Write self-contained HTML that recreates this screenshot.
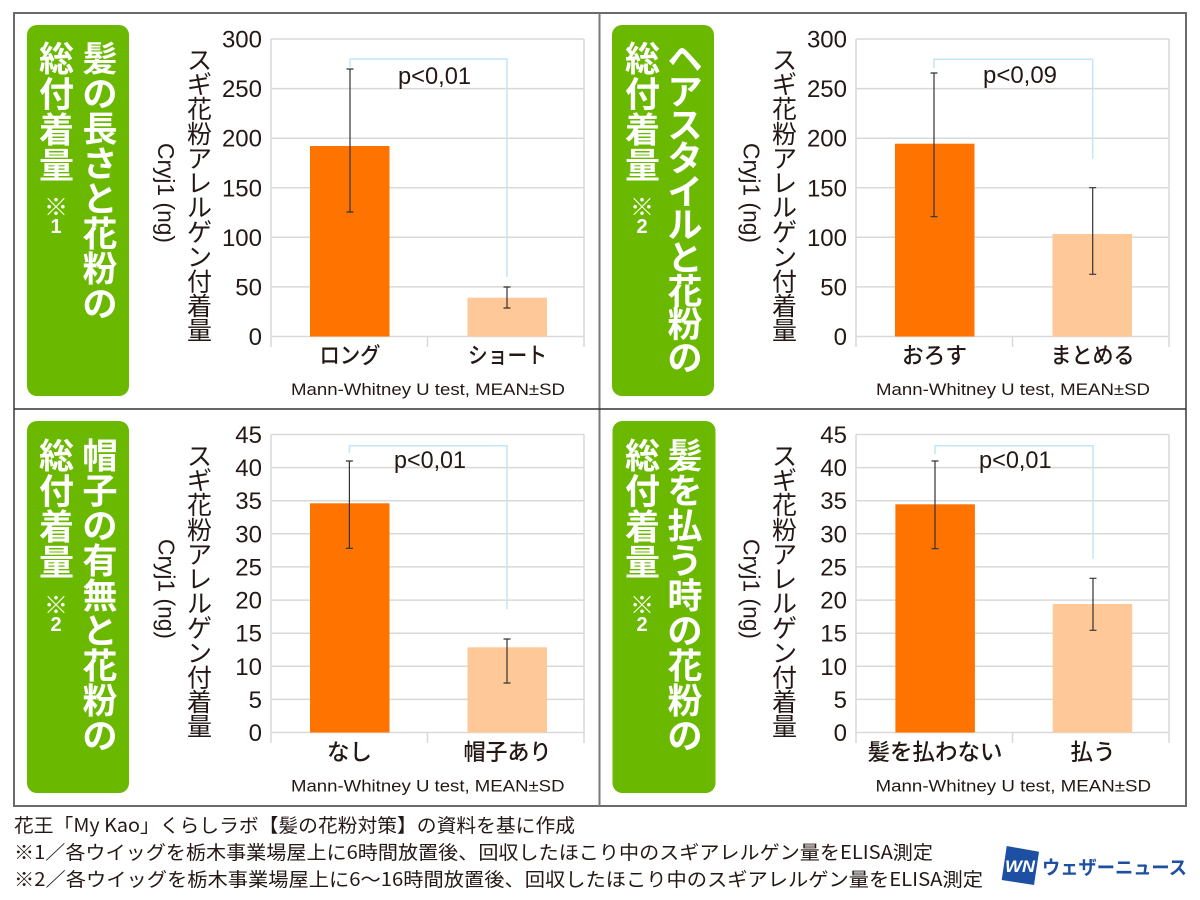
<!DOCTYPE html>
<html><head><meta charset="utf-8">
<style>
html,body{margin:0;padding:0;background:#fff;}
svg{display:block;}
text{font-family:"Liberation Sans","Noto Sans CJK JP",sans-serif;fill:#231815;}
.jp{font-family:"Noto Sans CJK JP","Liberation Sans",sans-serif;}
.gt{font-family:"Noto Sans CJK JP",sans-serif;font-weight:700;fill:#fff;font-size:35px;}
.yt{font-family:"Noto Sans CJK JP",sans-serif;font-size:25px;}
.tk{font-size:24px;}
.cat{font-family:"Noto Sans CJK JP",sans-serif;font-size:22.5px;font-weight:500;}
.mw{font-size:17px;}
.pv{font-size:24px;}
.grid{stroke:#d9d9d9;stroke-width:1.5;fill:none;}
.err{stroke:#333;stroke-width:1.2;fill:none;}
.brk{stroke:#c2e6f7;stroke-width:1.5;fill:none;}
.ft{font-family:"Noto Sans CJK JP",sans-serif;font-size:19px;}
.kome{font-family:"Noto Sans CJK JP",sans-serif;font-size:24px;font-weight:400;fill:#fff;}
.num{font-size:20px;font-weight:700;fill:#fff;}
</style></head>
<body>
<svg width="1200" height="900" viewBox="0 0 1200 900" xmlns="http://www.w3.org/2000/svg">
<rect x="0" y="0" width="1200" height="900" fill="#fff"/>

<!-- PANEL TL -->
<g transform="translate(0,0)">
  <rect x="27" y="25" width="102" height="371" rx="10" fill="#6ab800"/>
  <g text-anchor="middle" dominant-baseline="central">
    <text class="gt" x="100" y="57">髪</text><text class="gt" x="100" y="92">の</text><text class="gt" x="100" y="127">長</text><text class="gt" x="100" y="162">さ</text><text class="gt" x="100" y="197">と</text><text class="gt" x="100" y="232">花</text><text class="gt" x="100" y="267">粉</text><text class="gt" x="100" y="302">の</text>
    <text class="gt" x="56.5" y="57">総</text><text class="gt" x="56.5" y="92.5">付</text><text class="gt" x="56.5" y="128">着</text><text class="gt" x="56.5" y="163.5">量</text>
    <text class="kome" x="56" y="205">※</text>
    <text class="num" x="56" y="227">1</text>
  </g>
  <g text-anchor="middle" dominant-baseline="central">
    <text class="yt" x="199.5" y="59">ス</text><text class="yt" x="199.5" y="83.6">ギ</text><text class="yt" x="199.5" y="108.2">花</text><text class="yt" x="199.5" y="132.8">粉</text><text class="yt" x="199.5" y="157.4">ア</text><text class="yt" x="199.5" y="182">レ</text><text class="yt" x="199.5" y="206.6">ル</text><text class="yt" x="199.5" y="231.2">ゲ</text><text class="yt" x="199.5" y="255.8">ン</text><text class="yt" x="199.5" y="280.4">付</text><text class="yt" x="199.5" y="305">着</text><text class="yt" x="199.5" y="329.6">量</text>
  </g>
  <text transform="translate(166,193) rotate(90)" text-anchor="middle" dominant-baseline="central" font-size="23" textLength="100" lengthAdjust="spacingAndGlyphs">Cryj1 (ng)</text>
  <path class="grid" d="M271,39H584M271,88.6H584M271,138.2H584M271,187.8H584M271,237.3H584M271,286.9H584M271,336.5H584M271,39V347M584,39V347M427.5,336.5V347"/>
  <g text-anchor="end">
    <text class="tk" x="262" y="47.5">300</text><text class="tk" x="262" y="97.1">250</text><text class="tk" x="262" y="146.7">200</text><text class="tk" x="262" y="196.3">150</text><text class="tk" x="262" y="245.8">100</text><text class="tk" x="262" y="295.4">50</text><text class="tk" x="262" y="345">0</text>
  </g>
  <rect x="310" y="146" width="79.5" height="190.5" fill="#ff7300"/>
  <rect x="467.5" y="297.7" width="79.5" height="38.8" fill="#ffc898"/>
  <path class="err" d="M350,69V212M346.5,69H353.5M346.5,212H353.5M507,287V308M503.5,287H510.5M503.5,308H510.5"/>
  <path class="brk" d="M350,67V59H507V277"/>
  <text class="pv" x="398" y="84" textLength="73" lengthAdjust="spacingAndGlyphs">p&lt;0,01</text>
  <text class="cat" x="350" y="354.5" text-anchor="middle" dominant-baseline="central" textLength="61" lengthAdjust="spacingAndGlyphs">ロング</text>
  <text class="cat" x="507.5" y="354.5" text-anchor="middle" dominant-baseline="central" textLength="79" lengthAdjust="spacingAndGlyphs">ショート</text>
  <text class="mw" x="291" y="395" textLength="274" lengthAdjust="spacingAndGlyphs">Mann-Whitney U test, MEAN±SD</text>
</g>

<!-- PANEL TR -->
<g transform="translate(585,0)">
  <rect x="27" y="25" width="102" height="371" rx="10" fill="#6ab800"/>
  <g text-anchor="middle" dominant-baseline="central">
    <text class="gt" x="100" y="57">ヘ</text><text class="gt" x="100" y="90.2">ア</text><text class="gt" x="100" y="123.4">ス</text><text class="gt" x="100" y="156.6">タ</text><text class="gt" x="100" y="189.8">イ</text><text class="gt" x="100" y="223">ル</text><text class="gt" x="100" y="256.2">と</text><text class="gt" x="100" y="289.4">花</text><text class="gt" x="100" y="322.6">粉</text><text class="gt" x="100" y="355.8">の</text>
    <text class="gt" x="57.5" y="57">総</text><text class="gt" x="57.5" y="92.5">付</text><text class="gt" x="57.5" y="128">着</text><text class="gt" x="57.5" y="163.5">量</text>
    <text class="kome" x="57" y="205">※</text>
    <text class="num" x="57" y="227">2</text>
  </g>
  <g text-anchor="middle" dominant-baseline="central">
    <text class="yt" x="199.5" y="59">ス</text><text class="yt" x="199.5" y="83.6">ギ</text><text class="yt" x="199.5" y="108.2">花</text><text class="yt" x="199.5" y="132.8">粉</text><text class="yt" x="199.5" y="157.4">ア</text><text class="yt" x="199.5" y="182">レ</text><text class="yt" x="199.5" y="206.6">ル</text><text class="yt" x="199.5" y="231.2">ゲ</text><text class="yt" x="199.5" y="255.8">ン</text><text class="yt" x="199.5" y="280.4">付</text><text class="yt" x="199.5" y="305">着</text><text class="yt" x="199.5" y="329.6">量</text>
  </g>
  <text transform="translate(166.5,193) rotate(90)" text-anchor="middle" dominant-baseline="central" font-size="23" textLength="100" lengthAdjust="spacingAndGlyphs">Cryj1 (ng)</text>
  <path class="grid" d="M271,39H584M271,88.6H584M271,138.2H584M271,187.8H584M271,237.3H584M271,286.9H584M271,336.5H584M271,39V347M584,39V347M427.5,336.5V347"/>
  <g text-anchor="end">
    <text class="tk" x="262" y="47.5">300</text><text class="tk" x="262" y="97.1">250</text><text class="tk" x="262" y="146.7">200</text><text class="tk" x="262" y="196.3">150</text><text class="tk" x="262" y="245.8">100</text><text class="tk" x="262" y="295.4">50</text><text class="tk" x="262" y="345">0</text>
  </g>
  <rect x="310" y="143.7" width="79.5" height="192.8" fill="#ff7300"/>
  <rect x="467.5" y="234" width="79.5" height="102.5" fill="#ffc898"/>
  <path class="err" d="M349,73V216.7M345.5,73H352.5M345.5,216.7H352.5M507.7,187.7V274.3M504.2,187.7H511.2M504.2,274.3H511.2"/>
  <path class="brk" d="M349,68V59.3H507.7V159"/>
  <text class="pv" x="398" y="83" textLength="74" lengthAdjust="spacingAndGlyphs">p&lt;0,09</text>
  <text class="cat" x="349.5" y="354.5" text-anchor="middle" dominant-baseline="central" textLength="65" lengthAdjust="spacingAndGlyphs">おろす</text>
  <text class="cat" x="507.5" y="354.5" text-anchor="middle" dominant-baseline="central" textLength="84" lengthAdjust="spacingAndGlyphs">まとめる</text>
  <text class="mw" x="291" y="395" textLength="274" lengthAdjust="spacingAndGlyphs">Mann-Whitney U test, MEAN±SD</text>
</g>

<!-- PANEL BL -->
<g transform="translate(0,396)">
  <rect x="27" y="25" width="102" height="372" rx="10" fill="#6ab800"/>
  <g text-anchor="middle" dominant-baseline="central">
    <text class="gt" x="100" y="58">帽</text><text class="gt" x="100" y="93">子</text><text class="gt" x="100" y="128">の</text><text class="gt" x="100" y="163">有</text><text class="gt" x="100" y="198">無</text><text class="gt" x="100" y="233">と</text><text class="gt" x="100" y="268">花</text><text class="gt" x="100" y="303">粉</text><text class="gt" x="100" y="338">の</text>
    <text class="gt" x="56.5" y="58">総</text><text class="gt" x="56.5" y="93.5">付</text><text class="gt" x="56.5" y="129">着</text><text class="gt" x="56.5" y="164.5">量</text>
    <text class="kome" x="56" y="207">※</text>
    <text class="num" x="56" y="229">2</text>
  </g>
  <g text-anchor="middle" dominant-baseline="central">
    <text class="yt" x="199.5" y="59">ス</text><text class="yt" x="199.5" y="83.6">ギ</text><text class="yt" x="199.5" y="108.2">花</text><text class="yt" x="199.5" y="132.8">粉</text><text class="yt" x="199.5" y="157.4">ア</text><text class="yt" x="199.5" y="182">レ</text><text class="yt" x="199.5" y="206.6">ル</text><text class="yt" x="199.5" y="231.2">ゲ</text><text class="yt" x="199.5" y="255.8">ン</text><text class="yt" x="199.5" y="280.4">付</text><text class="yt" x="199.5" y="305">着</text><text class="yt" x="199.5" y="329.6">量</text>
  </g>
  <text transform="translate(166.5,193) rotate(90)" text-anchor="middle" dominant-baseline="central" font-size="23" textLength="100" lengthAdjust="spacingAndGlyphs">Cryj1 (ng)</text>
  <path class="grid" d="M271,38.5H584M271,71.6H584M271,104.7H584M271,137.8H584M271,170.9H584M271,204.1H584M271,237.2H584M271,270.3H584M271,303.4H584M271,336.5H584M271,38.5V347M584,38.5V347M427.5,336.5V347"/>
  <g text-anchor="end">
    <text class="tk" x="262" y="47">45</text><text class="tk" x="262" y="80.1">40</text><text class="tk" x="262" y="113.2">35</text><text class="tk" x="262" y="146.3">30</text><text class="tk" x="262" y="179.4">25</text><text class="tk" x="262" y="212.6">20</text><text class="tk" x="262" y="245.7">15</text><text class="tk" x="262" y="278.8">10</text><text class="tk" x="262" y="311.9">5</text><text class="tk" x="262" y="345">0</text>
  </g>
  <rect x="310" y="107.3" width="79.5" height="229.2" fill="#ff7300"/>
  <rect x="467.5" y="251.3" width="79.5" height="85.2" fill="#ffc898"/>
  <path class="err" d="M349.4,65V152.3M345.9,65H352.9M345.9,152.3H352.9M507,243V287M503.5,243H510.5M503.5,287H510.5"/>
  <path class="brk" d="M349.4,57V49.7H507V213.3"/>
  <text class="pv" x="394" y="72" textLength="72" lengthAdjust="spacingAndGlyphs">p&lt;0,01</text>
  <text class="cat" x="349.5" y="355" text-anchor="middle" dominant-baseline="central">なし</text>
  <text class="cat" x="507.5" y="355" text-anchor="middle" dominant-baseline="central" textLength="88" lengthAdjust="spacingAndGlyphs">帽子あり</text>
  <text class="mw" x="291" y="395.5" textLength="273.5" lengthAdjust="spacingAndGlyphs">Mann-Whitney U test, MEAN±SD</text>
</g>

<!-- PANEL BR -->
<g transform="translate(585,396)">
  <rect x="27.5" y="25" width="103" height="372" rx="10" fill="#6ab800"/>
  <g text-anchor="middle" dominant-baseline="central">
    <text class="gt" x="100" y="58">髪</text><text class="gt" x="100" y="93">を</text><text class="gt" x="100" y="128">払</text><text class="gt" x="100" y="163">う</text><text class="gt" x="100" y="198">時</text><text class="gt" x="100" y="233">の</text><text class="gt" x="100" y="268">花</text><text class="gt" x="100" y="303">粉</text><text class="gt" x="100" y="338">の</text>
    <text class="gt" x="57.5" y="58">総</text><text class="gt" x="57.5" y="93.5">付</text><text class="gt" x="57.5" y="129">着</text><text class="gt" x="57.5" y="164.5">量</text>
    <text class="kome" x="57" y="207">※</text>
    <text class="num" x="57" y="229">2</text>
  </g>
  <g text-anchor="middle" dominant-baseline="central">
    <text class="yt" x="199.5" y="59">ス</text><text class="yt" x="199.5" y="83.6">ギ</text><text class="yt" x="199.5" y="108.2">花</text><text class="yt" x="199.5" y="132.8">粉</text><text class="yt" x="199.5" y="157.4">ア</text><text class="yt" x="199.5" y="182">レ</text><text class="yt" x="199.5" y="206.6">ル</text><text class="yt" x="199.5" y="231.2">ゲ</text><text class="yt" x="199.5" y="255.8">ン</text><text class="yt" x="199.5" y="280.4">付</text><text class="yt" x="199.5" y="305">着</text><text class="yt" x="199.5" y="329.6">量</text>
  </g>
  <text transform="translate(166.5,193) rotate(90)" text-anchor="middle" dominant-baseline="central" font-size="23" textLength="100" lengthAdjust="spacingAndGlyphs">Cryj1 (ng)</text>
  <path class="grid" d="M271,38.5H584M271,71.6H584M271,104.7H584M271,137.8H584M271,170.9H584M271,204.1H584M271,237.2H584M271,270.3H584M271,303.4H584M271,336.5H584M271,38.5V347M584,38.5V347M427.5,336.5V347"/>
  <g text-anchor="end">
    <text class="tk" x="262" y="47">45</text><text class="tk" x="262" y="80.1">40</text><text class="tk" x="262" y="113.2">35</text><text class="tk" x="262" y="146.3">30</text><text class="tk" x="262" y="179.4">25</text><text class="tk" x="262" y="212.6">20</text><text class="tk" x="262" y="245.7">15</text><text class="tk" x="262" y="278.8">10</text><text class="tk" x="262" y="311.9">5</text><text class="tk" x="262" y="345">0</text>
  </g>
  <rect x="310.4" y="108.3" width="79.5" height="228.2" fill="#ff7300"/>
  <rect x="467.7" y="208" width="79.5" height="128.5" fill="#ffc898"/>
  <path class="err" d="M350,65V152.7M346.5,65H353.5M346.5,152.7H353.5M508,182.3V234.3M504.5,182.3H511.5M504.5,234.3H511.5"/>
  <path class="brk" d="M350,58V49.7H508V163"/>
  <text class="pv" x="394" y="72" textLength="72.6" lengthAdjust="spacingAndGlyphs">p&lt;0,01</text>
  <text class="cat" x="350" y="355" text-anchor="middle" dominant-baseline="central" textLength="135" lengthAdjust="spacingAndGlyphs">髪を払わない</text>
  <text class="cat" x="508" y="355" text-anchor="middle" dominant-baseline="central">払う</text>
  <text class="mw" x="290.5" y="395.5" textLength="275.5" lengthAdjust="spacingAndGlyphs">Mann-Whitney U test, MEAN±SD</text>
</g>

<!-- Frame -->
<rect x="14" y="13" width="1172" height="793" fill="none" stroke="#6a6a6a" stroke-width="2"/>
<line x1="599.5" y1="13" x2="599.5" y2="806" stroke="#7a7a7a" stroke-width="2"/>
<line x1="14" y1="409" x2="1186" y2="409" stroke="#333" stroke-width="1.5"/>

<!-- Footer -->
<text class="ft" x="14" y="832" textLength="561" lengthAdjust="spacingAndGlyphs">花王「My Kao」くらしラボ【髪の花粉対策】の資料を基に作成</text>
<text class="ft" x="14" y="859" textLength="919" lengthAdjust="spacingAndGlyphs">※1／各ウイッグを栃木事業場屋上に6時間放置後、回収したほこり中のスギアレルゲン量をELISA測定</text>
<text class="ft" x="14" y="886" textLength="969" lengthAdjust="spacingAndGlyphs">※2／各ウイッグを栃木事業場屋上に6～16時間放置後、回収したほこり中のスギアレルゲン量をELISA測定</text>

<!-- Logo -->
<polygon points="1006.7,846 1039,851.7 1034,885 1001.7,880" fill="#1d4fa2"/>
<text x="1020" y="872" text-anchor="middle" font-size="17" font-weight="700" font-style="italic" style="fill:#fff" textLength="30" lengthAdjust="spacingAndGlyphs">WN</text>
<text class="jp" x="1042" y="874" font-size="19" font-weight="700" style="fill:#1d4fa2" textLength="145" lengthAdjust="spacingAndGlyphs">ウェザーニュース</text>
</svg>
</body></html>
